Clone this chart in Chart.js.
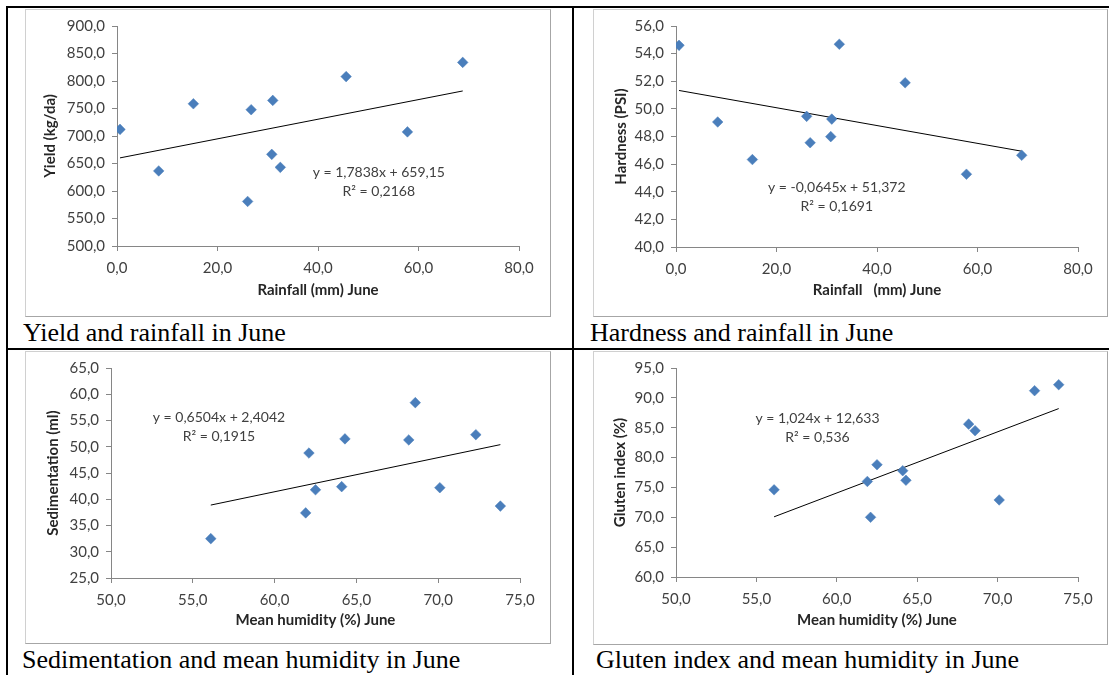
<!DOCTYPE html>
<html>
<head>
<meta charset="utf-8">
<script src="https://cdn.jsdelivr.net/npm/chart.js@4.4.1/dist/chart.umd.min.js"></script>
<style>
body { margin: 0; background: #fff; width: 1110px; height: 675px; position: relative; overflow: hidden; }
.rule { position: absolute; background: #000; }
.box { position: absolute; border: 1px solid #a6a6a6; border-top-color: #d0d0d0; border-left-color: #d0d0d0; background: #fff; }
.box canvas { position: absolute; left: 0; top: 0; }
.cap { position: absolute; font-family: "Liberation Serif", "Times New Roman", serif; font-size: 26px; line-height: 26px; color: #000; white-space: nowrap; }
</style>
</head>
<body>
<div class="rule" style="left:6px;top:6px;width:1103px;height:2px"></div>
<div class="rule" style="left:6px;top:6px;width:2px;height:669px"></div>
<div class="rule" style="left:572px;top:6px;width:2px;height:669px"></div>
<div class="rule" style="left:6px;top:348px;width:1103px;height:2px"></div>

<div class="box" style="left:25px;top:9px;width:524px;height:306px"><canvas id="c1" width="524" height="306"></canvas></div>
<div class="box" style="left:593px;top:9px;width:513px;height:306px"><canvas id="c2" width="513" height="306"></canvas></div>
<div class="box" style="left:25px;top:351px;width:524px;height:291px"><canvas id="c3" width="524" height="291"></canvas></div>
<div class="box" style="left:593px;top:351px;width:513px;height:292px"><canvas id="c4" width="513" height="292"></canvas></div>

<div class="cap" style="left:23px;top:320px">Yield and rainfall in June</div>
<div class="cap" style="left:590px;top:320px">Hardness and rainfall in June</div>
<div class="cap" style="left:22px;top:647px">Sedimentation and mean humidity in June</div>
<div class="cap" style="left:596px;top:647px">Gluten index and mean humidity in June</div>

<script>
// rainfall (mm) in June and mean humidity (%) in June, one value per sample
const rainfall = [0.6, 8.3, 15.2, 26.0, 26.7, 30.8, 31.0, 32.5, 45.6, 57.8, 68.8];
const humidity = [56.1, 61.9, 62.1, 62.5, 64.1, 64.3, 68.2, 68.6, 70.1, 72.3, 73.8];

const yieldVals = [712, 636.5, 758.6, 581, 747.8, 666.6, 764.7, 643, 808, 707.5, 833.8];
const hardness = [54.6, 49.05, 46.33, 49.46, 47.55, 47.99, 49.26, 54.68, 51.89, 45.27, 46.64];
const sedimentation = [32.5, 37.4, 48.8, 41.8, 42.4, 51.5, 51.3, 58.4, 42.2, 52.3, 38.7];
const gluten = [74.6, 76.0, 70.0, 78.8, 77.8, 76.2, 85.6, 84.5, 72.9, 91.2, 92.2];

// trendline coefficients as printed on the charts
const slopes = [1.7838, -0.0645, 0.6504, 1.024];
const intercepts = [659.15, 51.372, 2.4042, 12.633];
const equations = [
    ['y = 1,7838x + 659,15', 'R\u00b2 = 0,2168'],
    ['y = -0,0645x + 51,372', 'R\u00b2 = 0,1691'],
    ['y = 0,6504x + 2,4042', 'R\u00b2 = 0,1915'],
    ['y = 1,024x + 12,633', 'R\u00b2 = 0,536']
];

const yTitles = ['Yield (kg/da)', 'Hardness (PSI)', 'Sedimentation (ml)', 'Gluten index (%)'];
const xTitles = ['Rainfall (mm) June', 'Rainfall   (mm) June', 'Mean humidity (%) June', 'Mean humidity (%) June'];

const xRanges = [[0, 80, 20], [0, 80, 20], [50, 75, 5], [50, 75, 5]];
const yRanges = [[500, 900, 50], [40, 56, 2], [25, 65, 5], [60, 95, 5]];

// layout of each panel (canvas pixels) and where the equation sits (data units)
const panels = [
    { id: 'c1', xs: rainfall, ys: yieldVals, h: 306, yw: 91, xh: 70, top: 16, right: 31, ytx: 24, xty: 280, eq: [52.1, 634.5] },
    { id: 'c2', xs: rainfall, ys: hardness, h: 306, yw: 82, xh: 69, top: 15, right: 29, ytx: 27, xty: 280, eq: [32.0, 44.3] },
    { id: 'c3', xs: humidity, ys: sedimentation, h: 291, yw: 85, xh: 65, top: 13, right: 30, ytx: 27, xty: 268, eq: [56.6, 55.6] },
    { id: 'c4', xs: humidity, ys: gluten, h: 292, yw: 82, xh: 67, top: 13, right: 29, ytx: 26, xty: 268, eq: [58.8, 86.6] }
];

const fontFace = 'Lato, "Open Sans", sans-serif';
const comma = v => v.toFixed(1).replace('.', ',');

const equationText = {
    id: 'equationText',
    afterDatasetsDraw(chart, args, opts) {
        const ctx = chart.ctx;
        const px = chart.scales.x.getPixelForValue(opts.at[0]);
        const py = chart.scales.y.getPixelForValue(opts.at[1]);
        ctx.save();
        ctx.font = '14px ' + fontFace;
        ctx.fillStyle = '#404040';
        ctx.textAlign = 'center';
        ctx.textBaseline = 'middle';
        opts.lines.forEach((t, i) => ctx.fillText(t, px, py + i * 19));
        ctx.restore();
    }
};

panels.forEach((p, k) => {
    let points = p.xs.map((x, i) => ({ x: x, y: p.ys[i] }));
    let xmin = Math.min(...p.xs);
    let xmax = Math.max(...p.xs);
    let trend = [xmin, xmax].map(x => ({ x: x, y: slopes[k] * x + intercepts[k] }));

    let axisGrid = { drawOnChartArea: false, drawTicks: true, tickLength: 5, color: '#868686' };
    let axisBorder = { display: true, color: '#868686', width: 1 };
    let titleFont = { family: fontFace, size: 15, weight: 'bold', lineHeight: 1.2 };

    new Chart(document.getElementById(p.id), {
        type: 'scatter',
        data: {
            datasets: [
                {
                    data: points,
                    pointStyle: 'rectRot',
                    pointRadius: 5.3,
                    pointHoverRadius: 5.3,
                    backgroundColor: '#4a7ebb',
                    borderColor: '#4a7ebb',
                    borderWidth: 0.5
                },
                {
                    data: trend,
                    showLine: true,
                    pointRadius: 0,
                    borderColor: '#000000',
                    borderWidth: 1
                }
            ]
        },
        options: {
            responsive: false,
            animation: false,
            events: [],
            layout: { padding: { top: p.top, right: p.right, left: 0, bottom: 0 } },
            plugins: {
                legend: { display: false },
                tooltip: { enabled: false },
                equationText: { at: p.eq, lines: equations[k] }
            },
            scales: {
                x: {
                    type: 'linear',
                    min: xRanges[k][0],
                    max: xRanges[k][1],
                    grid: axisGrid,
                    border: axisBorder,
                    afterFit: axis => { axis.height = p.xh; },
                    ticks: {
                        stepSize: xRanges[k][2],
                        padding: 8,
                        color: '#404040',
                        font: { family: fontFace, size: 15 },
                        callback: comma
                    },
                    title: {
                        display: true,
                        text: xTitles[k],
                        color: '#262626',
                        font: titleFont,
                        padding: { top: 0, bottom: p.h - p.xty - 9 }
                    }
                },
                y: {
                    type: 'linear',
                    min: yRanges[k][0],
                    max: yRanges[k][1],
                    grid: axisGrid,
                    border: axisBorder,
                    afterFit: axis => { axis.width = p.yw; },
                    ticks: {
                        stepSize: yRanges[k][2],
                        padding: 7,
                        color: '#404040',
                        font: { family: fontFace, size: 15 },
                        callback: comma
                    },
                    title: {
                        display: true,
                        text: yTitles[k],
                        color: '#262626',
                        font: titleFont,
                        padding: { top: p.ytx - 9, bottom: 0 }
                    }
                }
            }
        },
        plugins: [equationText]
    });
});
</script>
</body>
</html>
